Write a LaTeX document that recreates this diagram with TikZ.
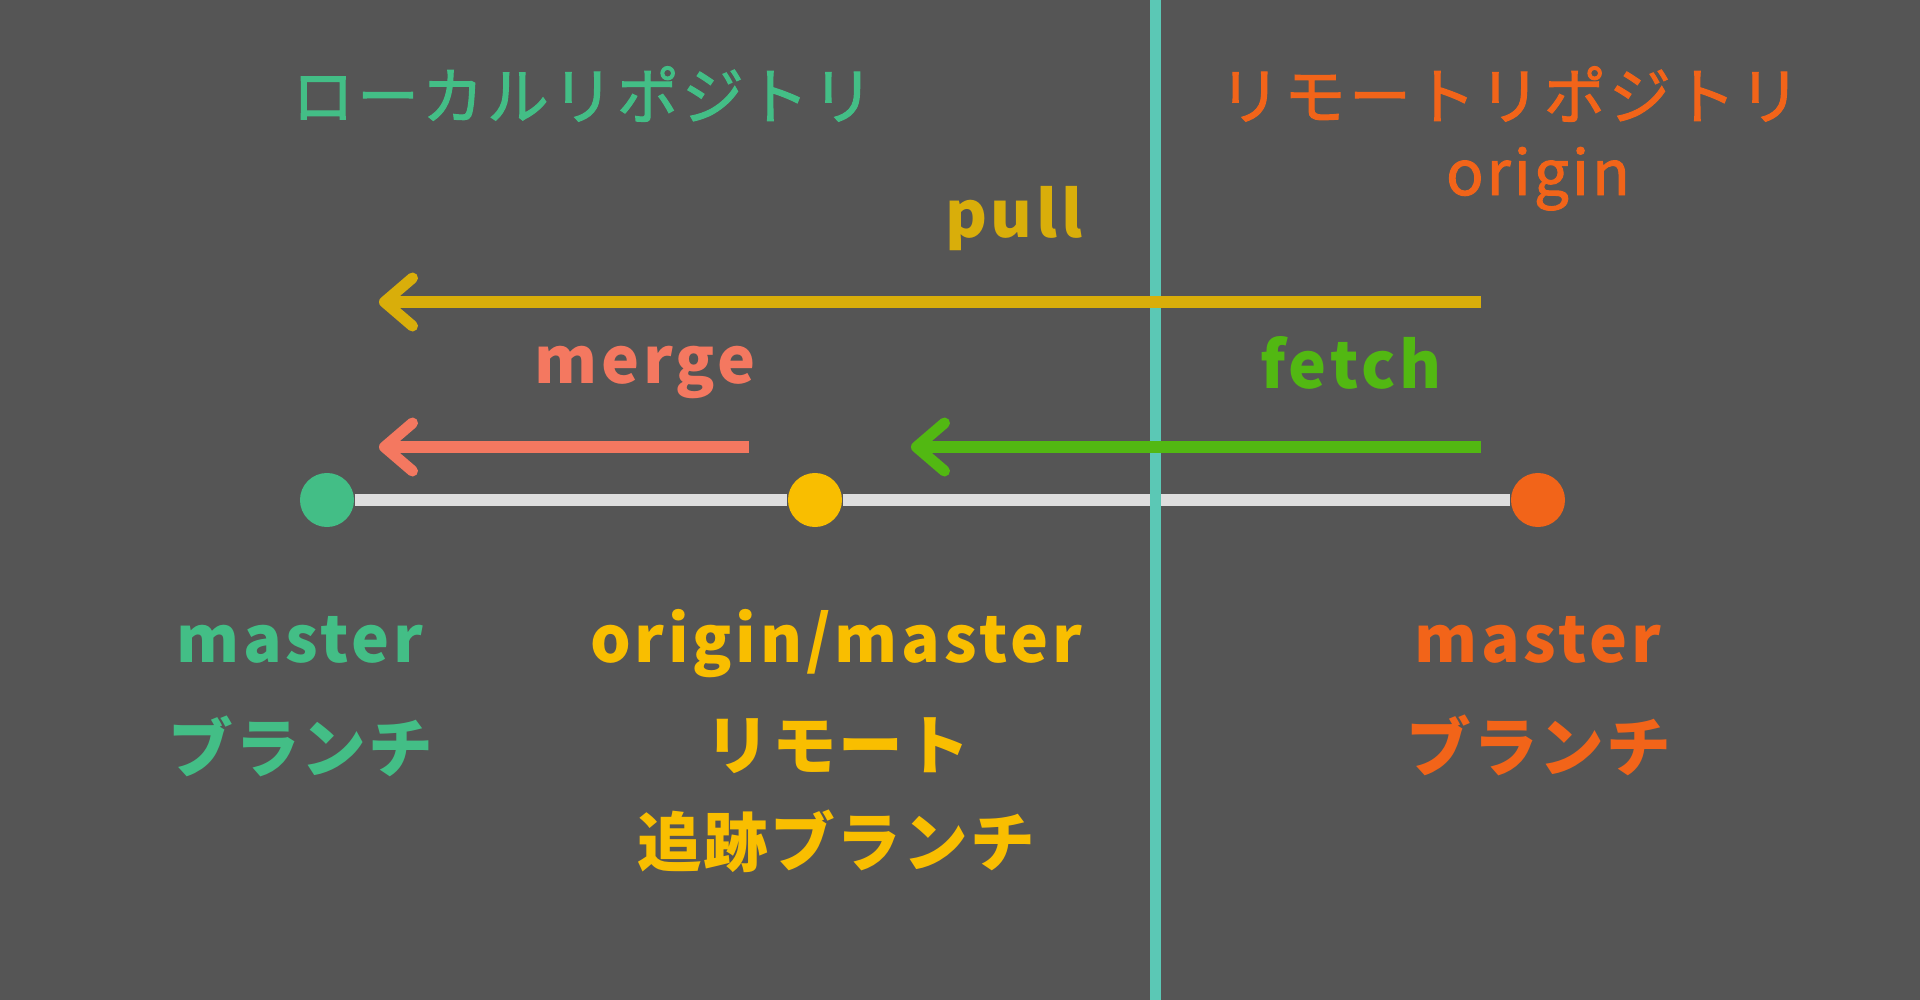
\documentclass[tikz,border=0pt]{standalone}
\usepackage{fontspec}
\setmainfont{Noto Sans CJK JP}
\newfontfamily\titlefont{Noto Sans CJK JP}[LetterSpace=5, FakeBold=1.6]
\newfontfamily\labfont{Noto Sans CJK JP}[LetterSpace=6]
\newfontfamily\jlabfont{Noto Sans CJK JP}[LetterSpace=3]
\usetikzlibrary{arrows.meta}
\definecolor{bgc}{HTML}{555555}
\definecolor{localc}{HTML}{43BE86}
\definecolor{remotec}{HTML}{F26419}
\definecolor{trackc}{HTML}{F9BE00}
\definecolor{pullc}{HTML}{D9AE0A}
\definecolor{fetchc}{HTML}{52B812}
\definecolor{mergec}{HTML}{F47860}
\definecolor{dividec}{HTML}{5BC8B5}
\definecolor{branchc}{HTML}{DEDEDE}
\tikzset{
  title/.style={inner sep=0pt, font=\titlefont\fontsize{17.6pt}{20pt}\selectfont},
  lab/.style={inner sep=0pt, font=\labfont\fontsize{18.2pt}{21pt}\selectfont\bfseries},
  jlab/.style={inner sep=0pt, font=\jlabfont\fontsize{18.4pt}{21pt}\selectfont\bfseries},
  flow/.style={line width=0.11cm, -{Straight Barb[length=0.28cm, width=0.48cm, round]}},
  commit/.style={circle, minimum size=0.54cm, inner sep=0pt},
}
\begin{document}
\begin{tikzpicture}[x=0.01cm, y=-0.01cm]
\fill[bgc] (0,0) rectangle (1920,1000);
\useasboundingbox (0,0) rectangle (1920,1000);
% commits and branch line
\node[commit, fill=localc] (cL) at (327,500) {};
\node[commit, fill=trackc] (cT) at (815,500) {};
\node[commit, fill=remotec] (cR) at (1538,500) {};
\draw[branchc, line width=0.12cm] (cL) -- (cT);
\draw[branchc, line width=0.12cm] (cT) -- (cR);
% divider
\coordinate (dTop) at (1155,0);
\coordinate (dBot) at (1155,1000);
\draw[dividec, line width=0.11cm] (dTop) -- (dBot);
% arrows
\coordinate (pullS) at (1481,302);
\coordinate (pullE) at (379,302);
\coordinate (fetchS) at (1481,447);
\coordinate (fetchE) at (911,447);
\coordinate (mergeS) at (749,447);
\coordinate (mergeE) at (379,447);
\draw[flow, pullc] (pullS) -- (pullE);
\draw[flow, fetchc] (fetchS) -- (fetchE);
\draw[flow, mergec] (mergeS) -- (mergeE);
% titles
\node[title, text=localc] (ltitle) at (583,94) {ローカルリポジトリ};
\node[title, text=remotec] (rtitle) at (1510,94) {リモートリポジトリ};
\node[title, text=remotec, anchor=base] (origin) at (1538,195) {origin};
% operation labels
\node[lab, text=pullc, anchor=base] (pull) at (1014,237) {pull};
\node[lab, text=mergec, anchor=base] (merge) at (645,383) {merge};
\node[lab, text=fetchc, anchor=base] (fetch) at (1351,388) {fetch};
% branch labels
\node[lab, text=localc, anchor=base] (masterL) at (300,662) {master};
\node[lab, text=trackc, anchor=base] (omaster) at (836,662) {origin/master};
\node[lab, text=remotec, anchor=base] (masterR) at (1538,662) {master};
\node[jlab, text=localc] (branchL) at (301,746) {ブランチ};
\node[jlab, text=trackc] (remote) at (838,746) {リモート};
\node[jlab, text=trackc] (tracking) at (836,841) {追跡ブランチ};
\node[jlab, text=remotec] (branchR) at (1539,745) {ブランチ};
\end{tikzpicture}
\end{document}
